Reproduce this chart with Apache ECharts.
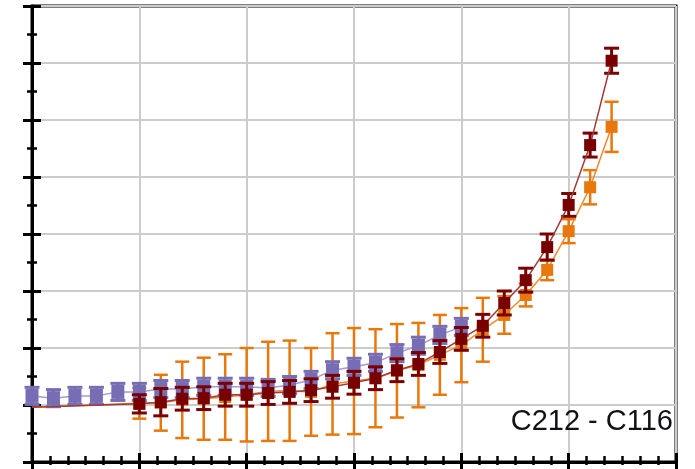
<!DOCTYPE html>
<html>
<head>
<meta charset="utf-8">
<script src="https://cdn.jsdelivr.net/npm/echarts@6/dist/echarts.min.js"></script>
<style>
  html, body { margin: 0; padding: 0; background: #fff; }
  #chart { width: 695px; height: 469px; }
</style>
</head>
<body>
<div id="chart"></div>
<script>
// Reference run (purple), sampled every 0.2 from 0 to 4
const purpleX = [0, 0.2, 0.4, 0.6, 0.8, 1.0, 1.2, 1.4, 1.6, 1.8, 2.0, 2.2, 2.4, 2.6, 2.8, 3.0, 3.2, 3.4, 3.6, 3.8, 4.0];
const purpleY = [1.16, 1.12, 1.16, 1.16, 1.23, 1.23, 1.28, 1.28, 1.32, 1.32, 1.32, 1.30, 1.35, 1.44, 1.61, 1.67, 1.74, 1.91, 2.04, 2.23, 2.37];
const purpleErr = [0.15, 0.15, 0.15, 0.15, 0.15, 0.15, 0.15, 0.15, 0.15, 0.15, 0.15, 0.15, 0.15, 0.15, 0.15, 0.15, 0.15, 0.15, 0.15, 0.15, 0.15];

// C212 (dark red) and C116 (orange) share the same abscissae
const pairX = [0, 1.0, 1.2, 1.4, 1.6, 1.8, 2.0, 2.2, 2.4, 2.6, 2.8, 3.0, 3.2, 3.4, 3.6, 3.8, 4.0, 4.2, 4.4, 4.6, 4.8, 5.0, 5.2, 5.4];
const redY = [0.96, 1.02, 1.05, 1.11, 1.12, 1.18, 1.18, 1.21, 1.23, 1.26, 1.32, 1.39, 1.47, 1.61, 1.72, 1.93, 2.16, 2.39, 2.79, 3.19, 3.77, 4.51, 5.56, 7.04];
const redErr = [null, 0.16, 0.24, 0.2, 0.2, 0.2, 0.2, 0.2, 0.2, 0.2, 0.2, 0.2, 0.2, 0.2, 0.2, 0.2, 0.2, 0.2, 0.21, 0.21, 0.23, 0.2, 0.21, 0.22];
const orangeY = [0.96, 1.03, 1.04, 1.09, 1.11, 1.14, 1.18, 1.24, 1.25, 1.23, 1.37, 1.42, 1.47, 1.60, 1.70, 1.88, 2.05, 2.32, 2.58, 2.93, 3.37, 4.05, 4.82, 5.88];
const orangeErr = [null, 0.27, 0.49, 0.67, 0.72, 0.75, 0.82, 0.87, 0.88, 0.77, 0.89, 0.93, 0.86, 0.82, 0.74, 0.70, 0.65, 0.56, 0.33, 0.2, 0.18, 0.21, 0.3, 0.44];

const caption = 'C212 - C116';

const PURPLE = '#776db4';
const RED = '#780000';
const ORANGE = '#e8780c';

function pointData(xs, ys) {
  return xs.map((x, i) => {
    const item = { value: [x, ys[i]] };
    if (x === 0 && xs !== purpleX) item.symbol = 'none';
    return item;
  });
}

function errData(xs, ys, es) {
  const out = [];
  xs.forEach((x, i) => {
    if (es[i] != null) out.push([x, ys[i] - es[i], ys[i] + es[i]]);
  });
  return out;
}

function errorBars(name, data, color, capW, lw, z) {
  return {
    name: name,
    type: 'custom',
    xAxisIndex: 0,
    yAxisIndex: 0,
    z: z,
    silent: true,
    data: data,
    renderItem: function (params, api) {
      const x = api.value(0);
      const lo = api.coord([x, api.value(1)]);
      const hi = api.coord([x, api.value(2)]);
      const h = capW / 2;
      const st = { stroke: color, lineWidth: lw };
      return {
        type: 'group',
        children: [
          { type: 'line', shape: { x1: lo[0], y1: lo[1], x2: hi[0], y2: hi[1] }, style: st },
          { type: 'line', shape: { x1: lo[0] - h, y1: lo[1], x2: lo[0] + h, y2: lo[1] }, style: st },
          { type: 'line', shape: { x1: hi[0] - h, y1: hi[1], x2: hi[0] + h, y2: hi[1] }, style: st }
        ]
      };
    }
  };
}

function lineSeries(name, data, lineColor, markColor, size, z) {
  return {
    name: name,
    type: 'line',
    xAxisIndex: 0,
    yAxisIndex: 0,
    z: z,
    data: data,
    symbol: 'rect',
    symbolSize: size,
    showAllSymbol: true,
    animation: false,
    lineStyle: { color: lineColor, width: 1.5 },
    itemStyle: { color: markColor, borderWidth: 0 }
  };
}

const chart = echarts.init(document.getElementById('chart'), null, { renderer: 'canvas' });

const gridLine = { show: true, lineStyle: { color: '#cccccc', width: 2 } };

chart.setOption({
  animation: false,
  backgroundColor: '#ffffff',
  grid: {
    left: 32, right: 19, top: 6, bottom: 7,
    show: true, borderColor: '#000', borderWidth: 3, backgroundColor: 'transparent'
  },
  xAxis: [
    {
      type: 'value', min: 0, max: 6, interval: 1, position: 'bottom',
      axisLine: { show: true, onZero: false, lineStyle: { color: '#000', width: 3 } },
      axisTick: { show: true, inside: true, length: 9, lineStyle: { color: '#000', width: 3 } },
      minorTick: { show: true, splitNumber: 6, length: 6, lineStyle: { color: '#000', width: 2.5 } },
      axisLabel: { show: false },
      splitLine: gridLine
    },
    {
      type: 'value', min: 0, max: 6, interval: 1, position: 'bottom', offset: 0,
      axisLine: { show: false },
      axisTick: { show: true, inside: false, length: 7, lineStyle: { color: '#000', width: 3 } },
      minorTick: { show: true, splitNumber: 6, length: 3, lineStyle: { color: '#000', width: 2.5 } },
      axisLabel: { show: false },
      splitLine: { show: false }
    }
  ],
  yAxis: [
    {
      type: 'value', min: 0, max: 8, interval: 1, position: 'left',
      axisLine: { show: true, onZero: false, lineStyle: { color: '#000', width: 3 } },
      axisTick: { show: true, inside: true, length: 9, lineStyle: { color: '#000', width: 3 } },
      minorTick: { show: true, splitNumber: 2, length: 5, lineStyle: { color: '#000', width: 2.5 } },
      axisLabel: { show: false },
      splitLine: gridLine
    },
    {
      type: 'value', min: 0, max: 8, interval: 1, position: 'left', offset: 0,
      axisLine: { show: false },
      axisTick: { show: true, inside: false, length: 9, lineStyle: { color: '#000', width: 3 } },
      minorTick: { show: true, splitNumber: 2, length: 5, lineStyle: { color: '#000', width: 2.5 } },
      axisLabel: { show: false },
      splitLine: { show: false }
    }
  ],
  series: [
    errorBars('C116 err', errData(pairX, orangeY, orangeErr), ORANGE, 14, 2.5, 2),
    lineSeries('C116', pointData(pairX, orangeY), '#ee8a2a', ORANGE, 12, 3),
    errorBars('ref err', errData(purpleX, purpleY, purpleErr), PURPLE, 15, 3, 4),
    lineSeries('ref', pointData(purpleX, purpleY), '#a59bd6', PURPLE, [13, 14], 5),
    errorBars('C212 err', errData(pairX, redY, redErr), RED, 15, 3, 6),
    lineSeries('C212', pointData(pairX, redY), '#a23a3a', RED, 12, 7)
  ],
  graphic: [
    {
      type: 'text',
      z: 100,
      style: {
        x: 673, y: 422,
        text: caption,
        fill: '#111118',
        font: '29px "Liberation Sans", Arial, sans-serif',
        align: 'right',
        verticalAlign: 'middle'
      }
    }
  ]
});
</script>
</body>
</html>
